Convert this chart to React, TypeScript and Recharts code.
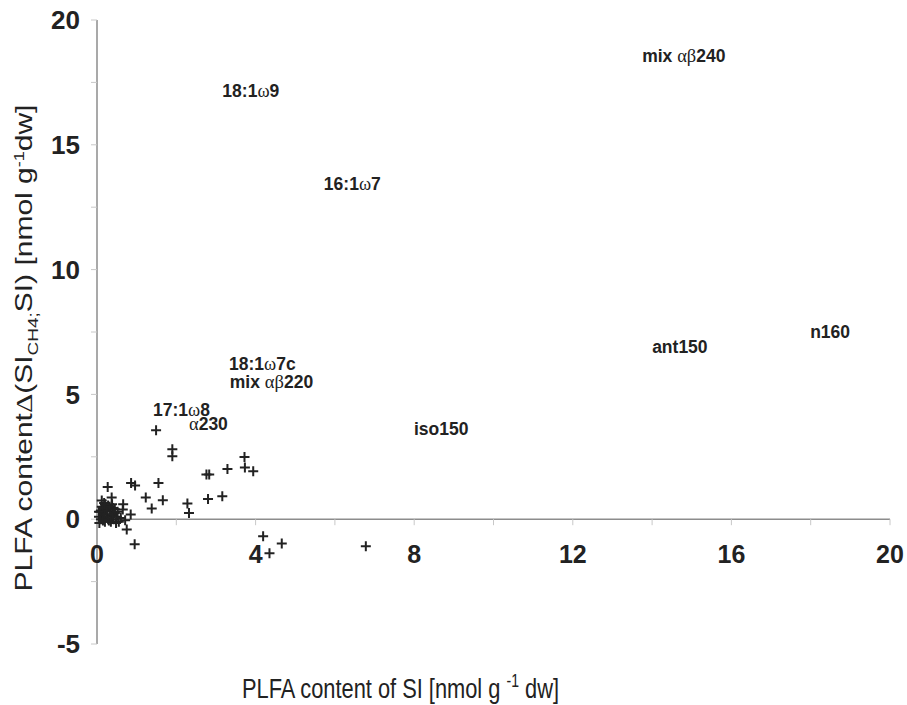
import React from "react";
import { ScatterChart, Scatter, XAxis, YAxis, ReferenceLine, ReferenceDot } from "recharts";

// labelled PLFA points (text drawn at the point position)
const labelNames = ["mix αβ240", "18:1ω9", "16:1ω7", "n160", "ant150", "18:1ω7c", "mix αβ220", "17:1ω8", "α230", "iso150"];
const labelX = [14.8, 3.88, 6.44, 18.49, 14.7, 4.17, 4.4, 2.13, 2.81, 8.68];
const labelY = [18.56, 17.18, 13.42, 7.52, 6.92, 6.22, 5.5, 4.36, 3.82, 3.62];

// unlabelled PLFA points (+ markers)
const plusX = [
  1.49, 1.9, 1.9, 3.72, 3.73, 3.94, 3.29, 2.76, 2.83, 3.16, 2.8, 2.28, 2.32, 1.55, 1.66, 1.23, 1.38, 0.86, 0.96,
  0.27, 0.37, 0.66, 0.65, 0.85, 0.71, 0.75, 0.95, 4.19, 4.35, 4.66, 6.78,
  0.05, 0.08, 0.1, 0.12, 0.15, 0.18, 0.2, 0.22, 0.25, 0.28, 0.3, 0.33, 0.35, 0.4, 0.42, 0.45, 0.5, 0.55, 0.12,
  0.06, 0.38, 0.48, 0.6, 0.2, 0.28, 0.1,
  0.15, 0.25, 0.32, 0.4, 0.2, 0.45, 0.52, 0.35, 0.15, 0.05,
];
const plusY = [
  3.56, 2.8, 2.52, 2.49, 2.07, 1.92, 2.01, 1.79, 1.79, 0.92, 0.81, 0.63, 0.25, 1.45, 0.76, 0.87, 0.43, 1.45, 1.35,
  1.29, 0.87, 0.6, 0.39, 0.19, -0.04, -0.41, -1.0, -0.68, -1.36, -0.97, -1.08,
  0.1, 0.3, 0.0, 0.5, 0.2, 0.65, -0.1, 0.4, 0.1, 0.55, -0.05, 0.3, 0.15, 0.45, 0.0, 0.25, 0.1, -0.1, 0.75,
  -0.15, 0.6, -0.15, 0.05, 0.2, 0.0, 0.35,
  0.45, 0.35, 0.5, 0.2, 0.6, 0.4, 0.3, -0.1, -0.05, 0.3,
];

const xTicks = [0, 2, 4, 6, 8, 10, 12, 14, 16, 18, 20];
const xTickLabels = [0, 4, 8, 12, 16, 20];
const yTicks = [-5, -2.5, 0, 2.5, 5, 7.5, 10, 12.5, 15, 17.5, 20];

const labelData = labelNames.map((name, i) => ({ x: labelX[i], y: labelY[i], name }));
const plusData = plusX.map((x, i) => ({ x, y: plusY[i] }));

const SANS = "'Liberation Sans', Arial, Helvetica, sans-serif";
const SERIF = "'Liberation Serif', 'Times New Roman', serif";
const INK = "#222";
const AXIS = "#8c8c8c";

const isGreek = (c: string) => /[\u0370-\u03ff]/.test(c);

function splitRuns(s: string) {
  const runs: { t: string; g: boolean }[] = [];
  for (const c of s) {
    const g = isGreek(c);
    if (runs.length && runs[runs.length - 1].g === g) runs[runs.length - 1].t += c;
    else runs.push({ t: c, g });
  }
  return runs;
}

const PlusShape = (p: any) => (
  <path d={`M${p.cx - 5},${p.cy}H${p.cx + 5}M${p.cx},${p.cy - 5}V${p.cy + 5}`} stroke={INK} strokeWidth={2} fill="none" />
);

const LabelShape = (p: any) => (
  <text x={p.cx} y={p.cy} dy="0.35em" textAnchor="middle" fontFamily={SANS} fontWeight="bold" fontSize={17.5} fill={INK}>
    {splitRuns(p.payload.name).map((r, i) =>
      r.g ? (
        <tspan key={i} fontFamily={SERIF} fontWeight="normal" fontSize={18.5}>{r.t}</tspan>
      ) : (
        <tspan key={i}>{r.t}</tspan>
      )
    )}
  </text>
);

const YTitle = (props: any) => {
  const vb = props.viewBox;
  const tx = vb.x + 24;
  const ty = vb.y + vb.height / 2 + 16;
  return (
    <text transform={`translate(${tx},${ty}) scale(0.78,1) rotate(-90)`} textAnchor="middle" dy="0.35em" fontFamily={SANS} fontSize={30} fill={INK}>
      PLFA content<tspan fontFamily={SERIF}>Δ</tspan>(SI
      <tspan dy={7} fontSize={19}>CH4;</tspan>
      <tspan dy={-7}>SI) [nmol g</tspan>
      <tspan dy={-11} fontSize={18}>-1</tspan>
      <tspan dy={11}>dw]</tspan>
    </text>
  );
};

const XTitle = (props: any) => {
  const vb = props.viewBox;
  const tx = vb.x + vb.width / 2 - 93;
  const ty = vb.y + 54;
  return (
    <text transform={`translate(${tx},${ty}) scale(0.78,1)`} textAnchor="middle" fontFamily={SANS} fontSize={28} fill={INK}>
      PLFA content of SI [nmol g <tspan dy={-11} fontSize={18}>-1</tspan>
      <tspan dy={11}> dw]</tspan>
    </text>
  );
};

export default function App() {
  return (
    <div style={{ position: "absolute", left: 0, top: 0, background: "#fff" }}>
      <ScatterChart width={907} height={705} margin={{ top: 20, right: 17, bottom: 0, left: 0 }}>
        <XAxis
          type="number"
          dataKey="x"
          domain={[0, 20]}
          ticks={xTicks}
          tick={false}
          tickLine={false}
          axisLine={false}
          height={61}
          label={{ content: XTitle }}
        />
        <YAxis
          type="number"
          dataKey="y"
          domain={[-5, 20]}
          ticks={yTicks}
          width={97}
          interval={0}
          tickFormatter={(v: number) => (v % 5 === 0 ? String(v) : "")}
          axisLine={{ stroke: AXIS, strokeWidth: 1.5 }}
          tickLine={{ stroke: "#c8c8c8" }}
          tickSize={6}
          tickMargin={11}
          tick={{ fontFamily: SANS, fontSize: 26, fontWeight: "bold", fill: INK }}
          label={{ content: YTitle }}
        />
        <ReferenceLine y={0} stroke={AXIS} strokeWidth={1.5} />
        {xTicks.slice(1).map((t) => (
          <ReferenceLine key={"t" + t} segment={[{ x: t, y: 0 }, { x: t, y: -0.24 }]} stroke="#c8c8c8" />
        ))}
        {xTickLabels.map((t) => (
          <ReferenceDot
            key={"l" + t}
            x={t}
            y={0}
            r={0}
            shape={(p: any) => (
              <text x={p.cx} y={p.cy + 44} textAnchor="middle" fontFamily={SANS} fontSize={25} fontWeight="bold" fill={INK}>
                {t}
              </text>
            )}
          />
        ))}
        <Scatter data={plusData} shape={PlusShape} isAnimationActive={false} />
        <Scatter data={labelData} shape={LabelShape} isAnimationActive={false} />
      </ScatterChart>
    </div>
  );
}
